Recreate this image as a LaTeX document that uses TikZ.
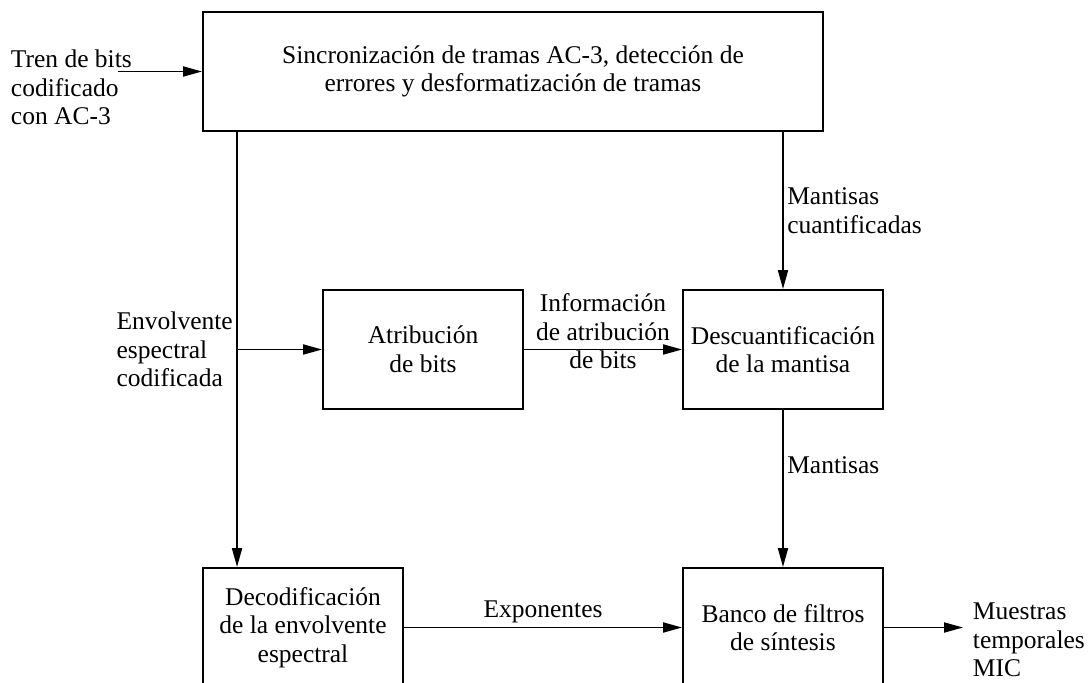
\documentclass[tikz,border=0pt]{standalone}
\usepackage{fontspec}
\setmainfont{Liberation Serif}
\usetikzlibrary{arrows.meta}

\begin{document}
\begin{tikzpicture}[x=1pt, y=-1pt, line width=1.9pt,
        every node/.style={font=\fontsize{25.5}{28.5}\selectfont, align=center},
        bloque/.style={draw, minimum width=200pt, minimum height=119pt, inner sep=0pt},
        >={Triangle[length=19pt, width=10pt]}]
        \clip (0,0) rectangle (1088,683);

        \node[bloque, minimum width=620pt] (sinc) at (513,71.5) {Sincronización de tramas AC-3, detección de\\errores y desformatización de tramas};

        \node[bloque] (atrib) at (423,349.5) {Atribución\\de bits};
        \node[bloque] (desc) at (783,349.5) {Descuantificación\\de la mantisa};

        \node[bloque] (decod) at (303,627.5) {Decodificación\\de la envolvente\\espectral};
        \node[bloque] (banco) at (783,627.5) {Banco de filtros\\de síntesis};

        \node[anchor=north west, align=left, inner sep=0pt] (tren) at (10,49) {Tren de bits\\codificado\\con AC-3};
        \node[anchor=north west, align=left, inner sep=0pt] (muestras) at (972,602) {Muestras\\temporales\\MIC};

        \coordinate (ent) at (118,71.5);
        \coordinate (izq) at ([xshift=35pt]sinc.south west);
        \coordinate (sal) at (963,627.5);

        \draw[->] (ent) -- (sinc.west |- ent);

        \draw[->] (izq) -- (izq |- decod.north) node[midway, left, align=left] {Envolvente\\espectral\\codificada};
        \draw[->] (izq |- atrib) -- (atrib);
        \draw[->] (atrib) -- (desc) node[midway, yshift=18pt] {Información\\de atribución\\de bits};

        \draw[->] (desc |- sinc.south) -- (desc) node[midway, right, align=left] {Mantisas\\cuantificadas};
        \draw[->] (desc) -- (banco) node[pos=0.35, right] {Mantisas};

        \draw[->] (decod) -- (banco) node[midway, above] {Exponentes};
        \draw[->] (banco) -- (sal);
    \end{tikzpicture}
\end{document}
